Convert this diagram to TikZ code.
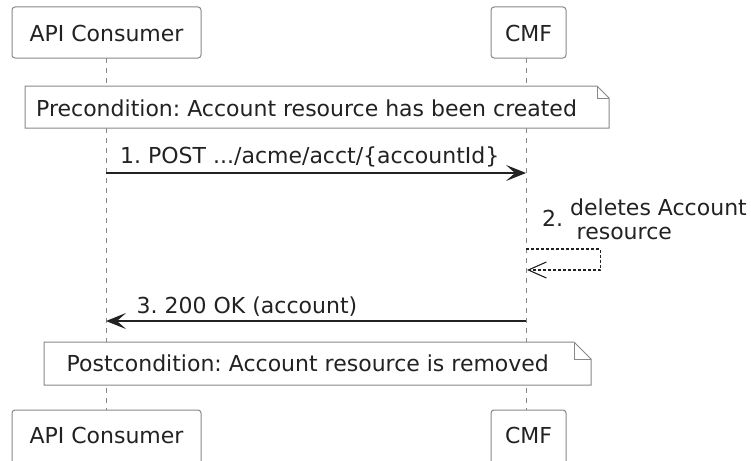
\documentclass[tikz,border=0pt]{standalone}
\usepackage{fontspec}
\setmainfont{DejaVu Sans}
\usetikzlibrary{arrows.meta}
\definecolor{edge}{HTML}{888888}
\definecolor{ink}{HTML}{222222}
\frenchspacing
\begin{document}
\begin{tikzpicture}[x=1pt,y=-1pt,
  font=\fontsize{22}{26}\selectfont, text=ink,
  party/.style={draw=edge, line width=1pt, rounded corners=3pt, fill=white},
  lifeline/.style={draw=edge, line width=1pt, dash pattern=on 5pt off 5pt},
  notebox/.style={draw=edge, line width=1pt, fill=white},
  msg/.style={draw=ink, line width=1.4pt, -{Stealth[length=20pt,width=16pt,inset=9pt]}},
  selfmsg/.style={draw=ink, line width=1.1pt, dash pattern=on 3pt off 2pt, -{Straight Barb[length=18pt,width=16pt,line width=1.1pt]}},
  lbl/.style={inner sep=0pt, anchor=base west}]
\useasboundingbox (0,0) rectangle (751,460);
\clip (0,0) rectangle (751,460);

% lifelines
\coordinate (aTop) at (106,58);
\coordinate (aBot) at (106,410);
\coordinate (cTop) at (526,58);
\coordinate (cBot) at (526,410);
\draw[lifeline] (aTop) -- (aBot);
\draw[lifeline] (cTop) -- (cBot);

% participants, top and bottom
\draw[party] (12,7) rectangle (201,58);
\node[inner sep=0pt, anchor=base] (apiT) at (106.5,41.5) {API Consumer};
\draw[party] (491,7) rectangle (566,58);
\node[inner sep=0pt, anchor=base] (cmfT) at (528.5,41.5) {CMF};
\draw[party] (12,410) rectangle (201,470);
\node[inner sep=0pt, anchor=base] (apiB) at (106.5,443) {API Consumer};
\draw[party] (491,410) rectangle (566,470);
\node[inner sep=0pt, anchor=base] (cmfB) at (528.5,443) {CMF};

% precondition note
\draw[notebox] (25,86) -- (597,86) -- (609,98) -- (609,128) -- (25,128) -- cycle;
\draw[edge, line width=1pt] (597,86) -- (597,98) -- (609,98);
\node[lbl] (pre) at (36,116.5) {Precondition: Account resource has been created};

% 1. request
\coordinate (m1s) at (106,173);
\coordinate (m1e) at (526,173);
\draw[msg] (m1s) -- (m1e);
\node[lbl] (m1) at (120,163) {1. POST .../acme/acct/\{accountId\}};

% 2. self message
\coordinate (m2s) at (526,249);
\coordinate (m2a) at (600.5,249);
\coordinate (m2b) at (600.5,270);
\coordinate (m2e) at (527,270);
\draw[selfmsg] (m2s) -- (m2a) -- (m2b) -- (m2e);
\node[lbl] (m2n) at (542,226.5) {2.};
\node[lbl] (m2t) at (570,215) {deletes Account};
\node[lbl] (m2u) at (576.5,239.5) {resource};

% 3. response
\coordinate (m3s) at (526,321);
\coordinate (m3e) at (106,321);
\draw[msg] (m3s) -- (m3e);
\node[lbl] (m3) at (136.5,313) {3. 200 OK (account)};

% postcondition note
\draw[notebox] (44,342) -- (574,342) -- (591,359) -- (591,385) -- (44,385) -- cycle;
\draw[edge, line width=1pt] (574,342) -- (574,359) -- (591,359);
\node[lbl] (post) at (66.5,371) {Postcondition: Account resource is removed};
\end{tikzpicture}
\end{document}
